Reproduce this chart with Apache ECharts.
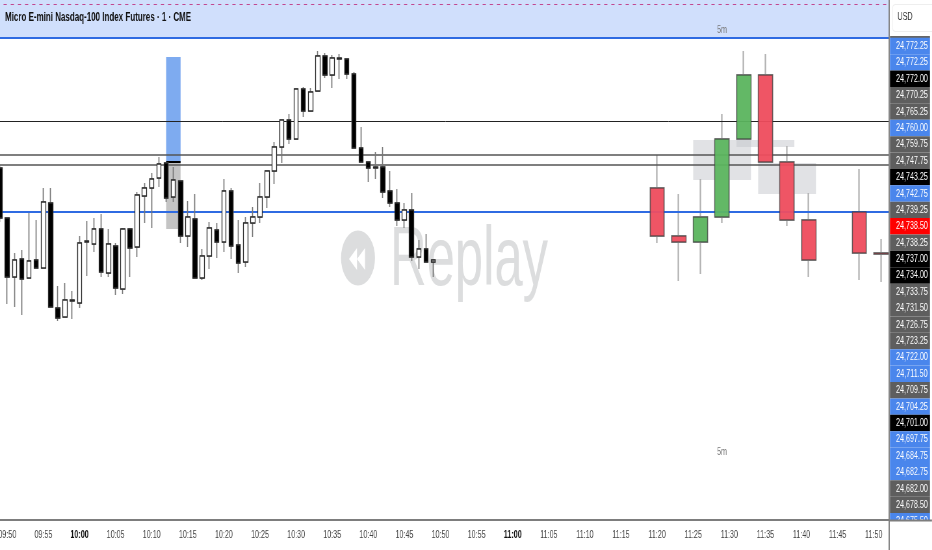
<!DOCTYPE html>
<html><head><meta charset="utf-8">
<style>html,body{margin:0;padding:0;background:#fff;overflow:hidden;width:932px;height:550px}
#w{width:932px;height:550px;overflow:hidden;position:relative}
#c{width:1434px;height:550px;transform:scaleX(0.65);transform-origin:0 0;position:absolute;left:0;top:0}</style>
<script src="https://cdn.jsdelivr.net/npm/echarts@6/dist/echarts.min.js"></script>
</head><body><div id="w"><div id="c"></div></div>
<script>
const categories=['09:48','09:49','09:50','09:51','09:52','09:53','09:54','09:55','09:56','09:57','09:58','09:59',
'10:00','10:01','10:02','10:03','10:04','10:05','10:06','10:07','10:08','10:09','10:10','10:11','10:12','10:13','10:14','10:15','10:16','10:17','10:18','10:19',
'10:20','10:21','10:22','10:23','10:24','10:25','10:26','10:27','10:28','10:29','10:30','10:31','10:32','10:33','10:34','10:35','10:36','10:37','10:38','10:39',
'10:40','10:41','10:42','10:43','10:44','10:45','10:46','10:47','10:48','10:49','10:50','10:51','10:52','10:53','10:54','10:55','10:56','10:57','10:58','10:59',
'11:00','11:01','11:02','11:03','11:04','11:05','11:06','11:07','11:08','11:09','11:10','11:11','11:12','11:13','11:14','11:15','11:16','11:17','11:18','11:19',
'11:20','11:21','11:22','11:23','11:24','11:25','11:26','11:27','11:28','11:29','11:30','11:31','11:32','11:33','11:34','11:35','11:36','11:37','11:38','11:39',
'11:40','11:41','11:42','11:43','11:44','11:45','11:46','11:47','11:48','11:49','11:50','11:51','11:52'];
// [time, open, close, low, high]
const oneMinute=[
['09:49',24740,24727.5,24726.5,24740.75],['09:50',24727.5,24712.75,24706,24727.5],['09:51',24712.75,24717,24705.25,24718.75],
['09:52',24717.25,24712.25,24703.25,24719.5],['09:53',24712.5,24716.75,24712.5,24728.75],['09:54',24717,24715,24715,24727],
['09:55',24715,24731.5,24715,24735],['09:56',24731.25,24705.25,24705.25,24735],['09:57',24705,24702.5,24701.75,24710.5],
['09:58',24702.75,24707,24702.75,24711.25],['09:59',24706.75,24707,24702.25,24709.25],['10:00',24706.25,24721.25,24705,24723],
['10:01',24721.5,24721.75,24713,24726.75],['10:02',24721,24724.75,24719,24727.5],['10:03',24724.75,24714,24712.75,24728.5],
['10:04',24713.75,24721,24712.75,24724.75],['10:05',24720.5,24710,24708.25,24721.25],['10:06',24709.75,24724.75,24708.5,24725],
['10:07',24724.75,24720,24712.75,24725],['10:08',24720.25,24733.25,24717.75,24734],['10:09',24733,24735,24726.25,24736.25],
['10:10',24735,24737.25,24725,24738.75],['10:11',24737.5,24741,24735.25,24742.75],['10:12',24741.25,24732.5,24731.5,24741.25],
['10:13',24732.75,24737,24731.5,24740.25],['10:14',24736.75,24723,24721.25,24736.75],['10:15',24723,24727.75,24720.25,24731.75],
['10:16',24727.25,24712.5,24712.5,24733.5],['10:17',24712.5,24718,24712,24719.75],['10:18',24718,24725,24714.75,24726.5],
['10:19',24724.5,24721.5,24717.5,24726.25],['10:20',24721.5,24734.25,24719,24737.25],['10:21',24734.25,24720.5,24717.25,24735],
['10:22',24720.75,24716.25,24713.75,24727],['10:23',24716.5,24726.25,24715.25,24727.75],['10:24',24726.25,24727.75,24722.75,24730.25],
['10:25',24727.75,24732.75,24726.25,24736.25],['10:26',24732.75,24739.25,24730,24739.25],['10:27',24739.25,24745.25,24736,24746.5],
['10:28',24745.25,24752,24741.25,24752],['10:29',24752,24747.25,24746,24753.5],['10:30',24747.25,24759.75,24747.25,24759.75],
['10:31',24759.75,24754.25,24752.75,24760.25],['10:32',24754.25,24759,24754.25,24760],['10:33',24759.25,24768,24759.25,24769.25],
['10:34',24768,24763.25,24762.5,24768.75],['10:35',24763.25,24767.5,24760,24768.25],['10:36',24767.25,24767.5,24762.25,24768.5],
['10:37',24767.25,24763.5,24762.25,24767.25],['10:38',24763.5,24745,24745,24764],['10:39',24745,24741.5,24741.5,24750.25],
['10:40',24741.5,24740,24736.5,24741.5],['10:41',24740,24740.25,24737.25,24744],['10:42',24740.25,24734,24732.5,24745.25],
['10:43',24734.25,24731.25,24730.25,24739.25],['10:44',24731.25,24727,24725.5,24734.75],['10:45',24727,24729.5,24725,24731.25],
['10:46',24729.5,24717.75,24716.75,24733.75],['10:47',24717.75,24719.75,24714.75,24722],['10:48',24719.75,24716.5,24716.5,24723.5],
['10:49',24716.5,24717,24712.75,24717.25]];
const fiveMinute=[
['11:20',24735,24723,24721.25,24743.25],['11:23',24723,24721.5,24711.75,24733.5],['11:26',24721.5,24727.75,24713.5,24737.25],
['11:29',24727.75,24747.25,24726.25,24753.5],['11:32',24747.25,24763.25,24747,24769.25],['11:35',24763.25,24741.5,24741.25,24768.5],
['11:38',24741.5,24727,24725.5,24745.5],['11:41',24727,24717,24712.75,24733.75],['11:48',24729,24718.75,24712,24739.75],
['11:51',24718.75,24718.5,24711.5,24722.25]];
const priceTags=['24,772.25','24,772.25','24,772.00','24,770.25','24,765.25','24,760.00','24,759.75','24,747.75','24,743.25','24,742.75','24,739.25','24,738.50','24,738.25','24,737.00','24,734.00','24,733.75','24,731.50','24,726.75','24,723.25','24,722.00','24,711.50','24,709.75','24,704.25','24,701.00','24,697.75','24,684.75','24,682.75','24,682.00','24,678.50','24,675.50'];
const tagKinds=['b','b','k','g','g','b','g','g','k','b','g','r','g','k','k','g','g','g','g','b','b','g','b','k','b','b','b','g','g','b'];
const tagColor={b:'#4a86ec',k:'#000000',g:'#5e5e5e',r:'#ff0000'};
const blueLevels=[24772.5,24729];
const blackLevels=[24751.75];
const greyLevels=[24743.25,24740.75];
const dashedLevel=24781;
const priceMin=24652,priceMax=24782;
const S=0.65, sx=v=>v/S;
const F='"Liberation Sans",Arial,sans-serif';

function aligned(rows,bodyOnly){
  const m={};rows.forEach(r=>m[r[0]]=r);
  return categories.map(t=>{
    const r=m[t];
    if(!r)return ['-','-','-','-'];
    return bodyOnly?[r[1],r[2],Math.min(r[1],r[2]),Math.max(r[1],r[2])]:[r[1],r[2],r[3],r[4]];
  });
}
function candle(name,rows,bodyOnly,width,z,up,down,border,bw,op){
  return {name,type:'candlestick',xAxisIndex:0,yAxisIndex:0,z,barWidth:sx(width),silent:true,
    data:aligned(rows,bodyOnly),
    itemStyle:{color:up,color0:down,borderColor:border,borderColor0:border,borderColorDoji:border,borderWidth:bw,opacity:op}};
}
const hline=(v,c,w,t)=>({yAxis:v,lineStyle:{color:c,width:w,type:t||'solid'}});
const chart=echarts.init(document.getElementById('c'),null,{renderer:'canvas',width:1434,height:550});
chart.setOption({
  animation:false,backgroundColor:'#fff',
  grid:[{left:sx(-10.75),top:0,width:sx(902.5),height:520,outerBoundsMode:'none'},
        {left:sx(890),top:37.8,width:sx(40),height:491.7,outerBoundsMode:'none'}],
  xAxis:[{type:'category',gridIndex:0,data:categories,boundaryGap:true,
      axisLine:{show:true,lineStyle:{color:'#7d7d7d',width:2}},axisTick:{show:false},splitLine:{show:false},
      axisLabel:{show:true,margin:9,color:'#444',fontFamily:F,fontSize:11,hideOverlap:false,
        interval:(i,v)=>/[05]$/.test(v),
        formatter:v=>(v==='10:00'||v==='11:00')?'{b|'+v+'}':v,
        rich:{b:{fontFamily:F,fontSize:11,fontWeight:'bold',color:'#111'}}}},
    {type:'value',gridIndex:1,min:0,max:1,show:false}],
  yAxis:[{type:'value',gridIndex:0,min:priceMin,max:priceMax,show:false,splitLine:{show:false},scale:true},
    {type:'category',gridIndex:1,inverse:true,data:priceTags.map((t,i)=>i+':'+t),show:false}],
  graphic:{elements:[
    {type:'circle',x:sx(358),y:258,scaleX:0.95,z:0,silent:true,shape:{r:27.5},style:{fill:'#dcddde'}},
    {type:'polygon',z:0,silent:true,shape:{points:[[sx(349),259],[sx(357),248],[sx(357),270]]},style:{fill:'#fff'}},
    {type:'polygon',z:0,silent:true,shape:{points:[[sx(357),259],[sx(365),248],[sx(365),270]]},style:{fill:'#fff'}},
    {type:'text',x:sx(390),y:304,scaleX:0.93,z:0,silent:true,style:{text:'Replay',font:'84px "Liberation Sans"',fill:'#dcddde',textVerticalAlign:'bottom'}},
    {type:'text',x:sx(5),y:17.5,z:7,silent:true,style:{text:'Micro E-mini Nasdaq-100 Index Futures · 1 · CME',font:'bold 12.3px "Liberation Sans"',fill:'#111',textVerticalAlign:'middle'}},
    {type:'text',x:sx(722),y:30,z:7,silent:true,style:{text:'5m',font:'11px "Liberation Sans"',fill:'#777',textAlign:'center',textVerticalAlign:'middle'}},
    {type:'text',x:sx(722),y:452,z:7,silent:true,style:{text:'5m',font:'11px "Liberation Sans"',fill:'#777',textAlign:'center',textVerticalAlign:'middle'}},
    {type:'rect',z:8,silent:true,shape:{x:sx(889),y:0,width:sx(43),height:550},style:{fill:'#fff'}},
    {type:'rect',z:9,silent:true,shape:{x:sx(892.5),y:4.5,width:sx(45),height:27,r:4},style:{fill:'#fff',stroke:'#eeeeee'}},
    {type:'text',x:sx(905),y:17,z:9,silent:true,style:{text:'USD',font:'11px "Liberation Sans"',fill:'#333',textAlign:'center',textVerticalAlign:'middle'}},
    {type:'rect',z:9,silent:true,shape:{x:sx(890),y:36,width:sx(40),height:2},style:{fill:'#666'}},
    {type:'rect',z:12,silent:true,shape:{x:sx(889),y:520,width:sx(43),height:30},style:{fill:'#fff'}},
    {type:'rect',z:13,silent:true,shape:{x:sx(889),y:519.5,width:sx(43),height:2},style:{fill:'#7d7d7d'}},
    {type:'rect',z:13,silent:true,shape:{x:sx(888.5),y:0,width:sx(1.3),height:550},style:{fill:'#7d7d7d'}}
  ]},
  series:[
    {name:'levels',type:'line',xAxisIndex:0,yAxisIndex:0,data:[],z:3,silent:true,
      markArea:{silent:true,z:1,itemStyle:{borderWidth:0},data:[
        [{yAxis:priceMax,itemStyle:{color:'#d0dffc'}},{yAxis:blueLevels[0]}],
        [{xAxis:'10:12',yAxis:24767.75,itemStyle:{color:'#7eabf0'}},{xAxis:'10:14',yAxis:24741.5}],
        [{xAxis:'10:12',yAxis:24741.5,itemStyle:{color:'#c4c4c4'}},{xAxis:'10:14',yAxis:24724.75}],
        [{xAxis:'11:25',yAxis:24747,itemStyle:{color:'rgba(196,198,204,0.5)'}},{xAxis:'11:33',yAxis:24737}],
        [{xAxis:'11:34',yAxis:24741.25,itemStyle:{color:'rgba(196,198,204,0.5)'}},{xAxis:'11:42',yAxis:24733.5}],
        [{xAxis:'11:31',yAxis:24747,itemStyle:{color:'rgba(196,198,204,0.5)'}},{xAxis:'11:39',yAxis:24745.25}]
      ]},
      markLine:{silent:true,z:3,symbol:'none',label:{show:false},animation:false,data:[
        hline(dashedLevel,'#c2478f',1,[5,6]),
        ...blueLevels.map(v=>hline(v,'#2f6be2',2)),
        ...blackLevels.map(v=>hline(v,'#222',1)),
        ...greyLevels.map(v=>hline(v,'#555',1.5)),
        [{xAxis:'10:12',yAxis:24741.5,lineStyle:{color:'#000',width:2,type:'solid'}},{xAxis:'10:14',yAxis:24741.5}]
      ]}},
    candle('5m wicks',fiveMinute,false,14,2,'#b0b0b0','#b0b0b0','#b0b0b0',2.2,1),
    candle('5m bodies',fiveMinute,true,14.5,4,'#5cb85f','#f44d5e','rgba(60,60,60,0.75)',1.4,0.92),
    candle('1m wicks',oneMinute,false,3.5,5,'#777','#777','#777',1.7,1),
    candle('1m bodies',oneMinute,true,4.6,6,'#ffffff','#000000','#2a2a2a',1.3,1),
    {name:'price tags',type:'bar',xAxisIndex:1,yAxisIndex:1,z:10,barWidth:'100%',silent:true,
      data:tagKinds.map(k=>({value:1,itemStyle:{color:tagColor[k]}})),
      label:{show:true,position:'inside',offset:[3,0],color:'#fff',fontFamily:F,fontSize:11,
        formatter:p=>priceTags[p.dataIndex]}}
  ]
});
</script></body></html>
